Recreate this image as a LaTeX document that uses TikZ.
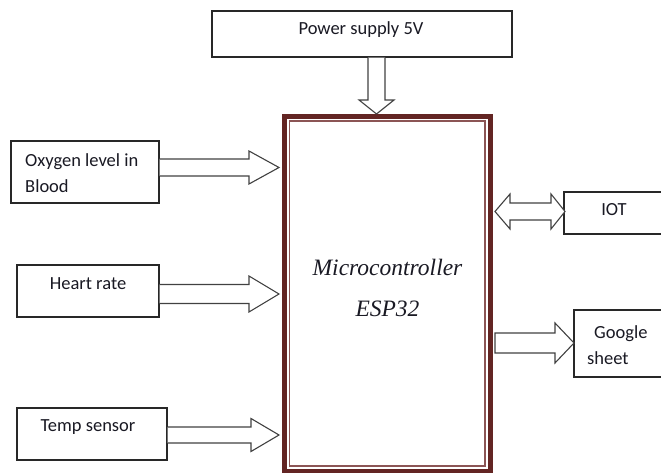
\documentclass[tikz,border=0pt]{standalone}
\usepackage{fontspec}
\setmainfont{Carlito}
\newfontfamily\mcfont{Liberation Serif}
\usetikzlibrary{calc}
\definecolor{maroon}{RGB}{99,37,35}
\definecolor{maroonlt}{RGB}{140,85,85}
\definecolor{boxline}{RGB}{40,40,40}
\definecolor{arrline}{RGB}{65,65,65}
\definecolor{txt}{RGB}{25,25,35}
\newcommand\rarrow[5]{%
  \draw[blockarrow] ($(#1|-#2)+(0,-#3)$) -- ($(#2)+(-#5,-#3)$) -- ($(#2)+(-#5,-#4)$) -- (#2)
    -- ($(#2)+(-#5,#4)$) -- ($(#2)+(-#5,#3)$) -- ($(#1|-#2)+(0,#3)$);}
\begin{document}
\begin{tikzpicture}[x=1bp,y=-1bp,
  box/.style={draw=boxline,line width=1.2bp,fill=white,inner sep=0pt},
  lbl/.style={text=txt,inner sep=0pt,font=\fontsize{18.5bp}{26bp}\selectfont},
  blockarrow/.style={draw=arrline,line width=1.1bp,fill=white,line join=miter}]
\useasboundingbox (0,0) rectangle (661,473);

% boxes
\node[box,minimum width=300bp,minimum height=46bp] (power) at (362,34) {};
\node[lbl] (powerT) at (361,30) {Power supply 5V};

\node[box,minimum width=148bp,minimum height=62bp] (oxy) at (85,172) {};
\node[lbl,align=left,anchor=west] (oxyT) at (25,173) {Oxygen level in\\Blood};

\node[box,minimum width=142bp,minimum height=52bp] (heart) at (88,291) {};
\node[lbl] (heartT) at (88,284) {Heart rate};

\node[box,minimum width=150bp,minimum height=52bp] (temp) at (92,434) {};
\node[lbl] (tempT) at (88,427) {Temp sensor};

\node[box,minimum width=100bp,minimum height=42bp] (iot) at (614,213) {};
\node[lbl] (iotT) at (614,210) {IOT};

\node[box,minimum width=90bp,minimum height=67bp] (gs) at (619,343.5) {};
\node[lbl,align=left,anchor=west] (gsT) at (587,345) {\hspace{7bp}Google\\sheet};

% microcontroller
\node[draw=maroon,line width=5.5bp,outer sep=0pt,minimum width=206bp,minimum height=355bp] (mc) at (387.5,294) {};
\draw[maroonlt,line width=1.4bp] ($(mc.north west)+(5,4.5)$) rectangle ($(mc.south east)+(-5.5,-5.5)$);
\node[text=txt,inner sep=0pt,align=center,font=\mcfont\itshape\fontsize{23.5bp}{41bp}\selectfont] (mcT) at (387.5,288) {Microcontroller\\ESP32};

% arrow tips
\coordinate (oxyTip) at (279,167.5);
\coordinate (heartTip) at (279,294);
\coordinate (tempTip) at (279,435);
\coordinate (gsTip) at (574,343);
\coordinate (gsTail) at (495,343);
\coordinate (pwTip) at (376.5,114);
\coordinate (iotL) at (495,211.5);
\coordinate (iotR) at (565,211.5);

\rarrow{oxy.east}{oxyTip}{8.5}{16.5}{30}
\rarrow{heart.east}{heartTip}{9.5}{18}{30}
\rarrow{temp.east}{tempTip}{8}{16.5}{28}
\draw[blockarrow] ($(gsTail)+(0,-10)$) -- ($(gsTip)+(-19,-10)$) -- ($(gsTip)+(-19,-20)$) -- (gsTip)
    -- ($(gsTip)+(-19,20)$) -- ($(gsTip)+(-19,10)$) -- ($(gsTail)+(0,10)$) -- cycle;

% power arrow (vertical)
\draw[blockarrow] ($(power.south-|pwTip)+(-8.5,0)$) -- ($(pwTip)+(-8.5,-14)$) -- ($(pwTip)+(-17.5,-14)$) -- (pwTip)
    -- ($(pwTip)+(17.5,-14)$) -- ($(pwTip)+(8.5,-14)$) -- ($(power.south-|pwTip)+(8.5,0)$);

% IOT double arrow
\draw[blockarrow] (iotL) -- ($(iotL)+(15,-17.5)$) -- ($(iotL)+(15,-8.5)$) -- ($(iotR)+(-14,-8.5)$) -- ($(iotR)+(-14,-17.5)$)
    -- (iotR) -- ($(iotR)+(-14,17.5)$) -- ($(iotR)+(-14,8.5)$) -- ($(iotL)+(15,8.5)$) -- ($(iotL)+(15,17.5)$) -- cycle;
\end{tikzpicture}
\end{document}
